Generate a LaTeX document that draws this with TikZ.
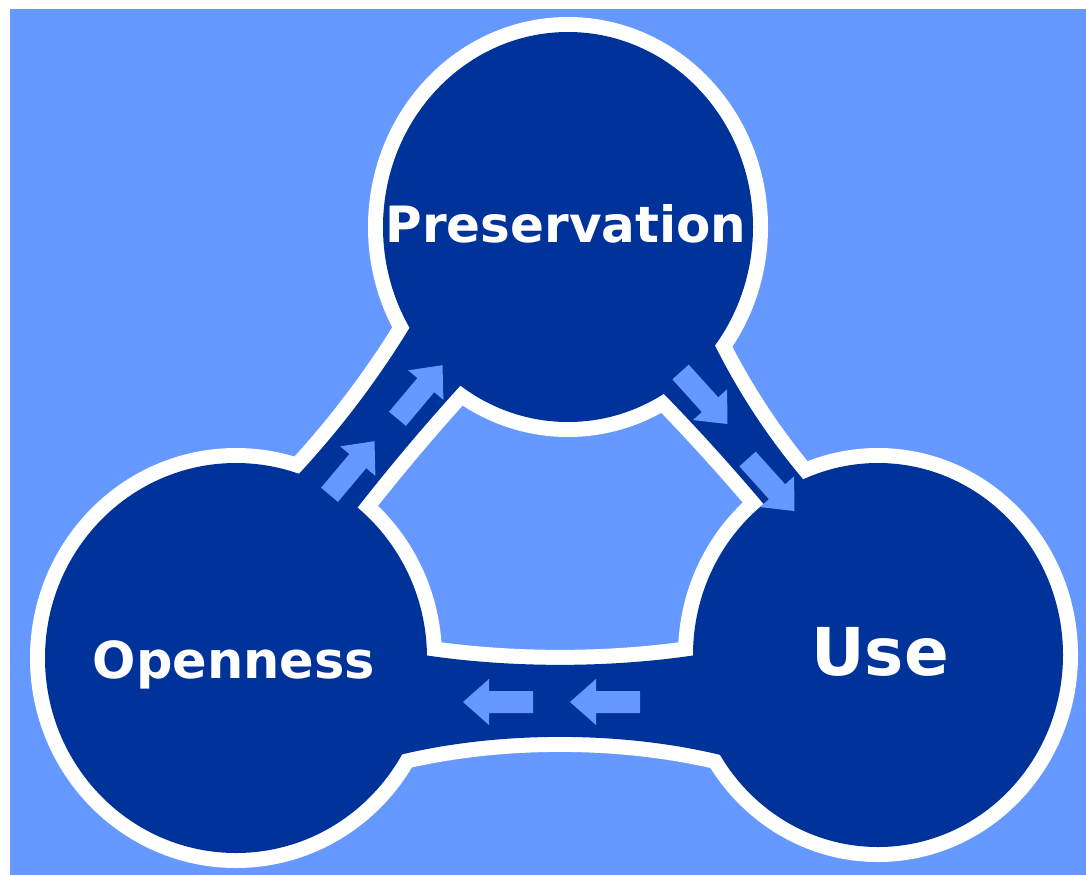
\documentclass[tikz,border=0pt]{standalone}
\usepackage{fontspec}
\setmainfont{DejaVu Sans}
\usepackage{tikz}

\definecolor{skyblue}{HTML}{6699FF}
\definecolor{navyblue}{HTML}{003399}

\tikzset{
  hub text/.style={text=white, font=\bfseries, inner sep=0pt, anchor=base},
  rim/.style={draw=white, line width=30pt, line join=round},
  body/.style={fill=navyblue},
}

% the three discs and the three bands joining them
\newcommand{\hubshapes}[1]{%
  \path[#1] (pres) ellipse [x radius=185, y radius=195];
  \path[#1] (open) ellipse [x radius=191, y radius=195];
  \path[#1] (use) ellipse [x radius=185, y radius=192];
  \path[#1] (264,509.6) .. controls (329.5,446) and (384.5,374.4) .. (429,294.6)
    -- (494,349.4) .. controls (433.1,413.5) and (376.5,480.9) .. (324,551.4) -- cycle;
  \path[#1] (691.7,294.1) .. controls (724.2,374.5) and (770.2,446.1) .. (829.7,509.1)
    -- (796.1,543.6) .. controls (743.2,477.5) and (686.1,414.5) .. (624.6,354.6) -- cycle;
  \path[#1] (380,647) .. controls (490,670.8) and (630,670.8) .. (740,647)
    -- (740,760) .. controls (630,729.2) and (490,729.2) .. (380,760) -- cycle;
}

% block arrow inside a band
\newcommand{\flowarrow}[2]{%
  \fill[skyblue, shift={#1}, rotate=#2]
    (-35,-11) -- (9,-11) -- (9,-23) -- (35,0) -- (9,23) -- (9,11) -- (-35,11) -- cycle;
}

\begin{document}
\begin{tikzpicture}[x=1pt, y=-1pt]
\useasboundingbox (0,0) rectangle (1086,875);
\fill[skyblue] (10,9) rectangle (1086,875);

\coordinate (pres) at (568,227);
\coordinate (open) at (236,658);
\coordinate (use) at (878,655);

\hubshapes{rim}
\hubshapes{body}

\flowarrow{(352,468)}{50}
\flowarrow{(420,392)}{50}
\flowarrow{(704,398)}{-48}
\flowarrow{(771,485)}{-48}
\flowarrow{(605,702)}{180}
\flowarrow{(498,702)}{180}

\node[hub text, font=\bfseries\fontsize{50}{60}\selectfont] (prestext) at (566,242) {Preservation};
\node[hub text, font=\bfseries\fontsize{51}{60}\selectfont] (opentext) at (234,678) {Openness};
\node[hub text, font=\bfseries\fontsize{66}{76}\selectfont] (usetext) at (880,675) {Use};
\end{tikzpicture}
\end{document}
